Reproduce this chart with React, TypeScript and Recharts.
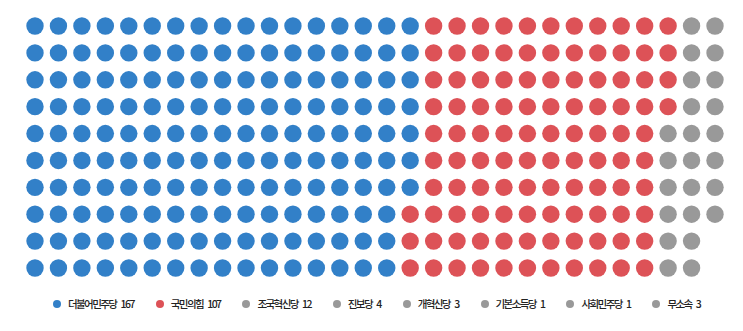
import { ScatterChart, Scatter, XAxis, YAxis, Legend } from 'recharts';

const parties = ['더불어민주당', '국민의힘', '조국혁신당', '진보당', '개혁신당', '기본소득당', '사회민주당', '무소속'];
const seats = [167, 107, 12, 4, 3, 1, 1, 3];
const colors = ['#3280c8', '#dd5257', '#999999', '#999999', '#999999', '#999999', '#999999', '#999999'];

const ROWS = 10;

// waffle layout: fill column by column, top to bottom
const series = (() => {
  let idx = 0;
  return parties.map((name, p) => {
    const pts = [];
    for (let k = 0; k < seats[p]; k++) {
      pts.push({ x: Math.floor(idx / ROWS), y: idx % ROWS });
      idx++;
    }
    return { name: `${name} ${seats[p]}`, color: colors[p], pts };
  });
})();

const cols = Math.ceil(seats.reduce((a, b) => a + b, 0) / ROWS);
const order = series.map((s) => s.name);

const Dot = (p: any) => <circle cx={p.cx} cy={p.cy} r={8.7} fill={p.fill} />;

const LegendContent = (props: any) => {
  const items = [...(props.payload || [])].sort((a: any, b: any) => order.indexOf(a.value) - order.indexOf(b.value));
  return (
    <div style={{ display: 'flex', alignItems: 'center', gap: 22 }}>
      {items.map((e: any) => (
        <div key={e.value} style={{ display: 'flex', alignItems: 'center' }}>
          <span style={{ width: 8, height: 8, borderRadius: 4, background: e.color, marginRight: 7 }} />
          <span
            style={{
              fontSize: 10.5,
              fontWeight: 500,
              letterSpacing: -1.6,
              wordSpacing: 3.5,
              color: '#222',
              fontFamily: "'Noto Sans CJK KR', sans-serif",
              whiteSpace: 'nowrap',
            }}
          >
            {e.value}
          </span>
        </div>
      ))}
    </div>
  );
};

export default function App() {
  return (
    <div style={{ position: 'absolute', left: 0, top: 0, background: '#fff' }}>
      <ScatterChart width={743} height={331} margin={{ top: 26, right: 28, bottom: 63, left: 35 }}>
        <XAxis type="number" dataKey="x" domain={[0, cols - 1]} hide />
        <YAxis type="number" dataKey="y" domain={[0, ROWS - 1]} reversed hide />
        {series.map((s) => (
          <Scatter
            key={s.name}
            name={s.name}
            data={s.pts}
            fill={s.color}
            isAnimationActive={false}
            shape={Dot}
          />
        ))}
        <Legend
          layout="horizontal"
          verticalAlign="middle"
          align="center"
          wrapperStyle={{ top: 296, left: 53, width: 'auto' }}
          content={<LegendContent />}
        />
      </ScatterChart>
    </div>
  );
}
